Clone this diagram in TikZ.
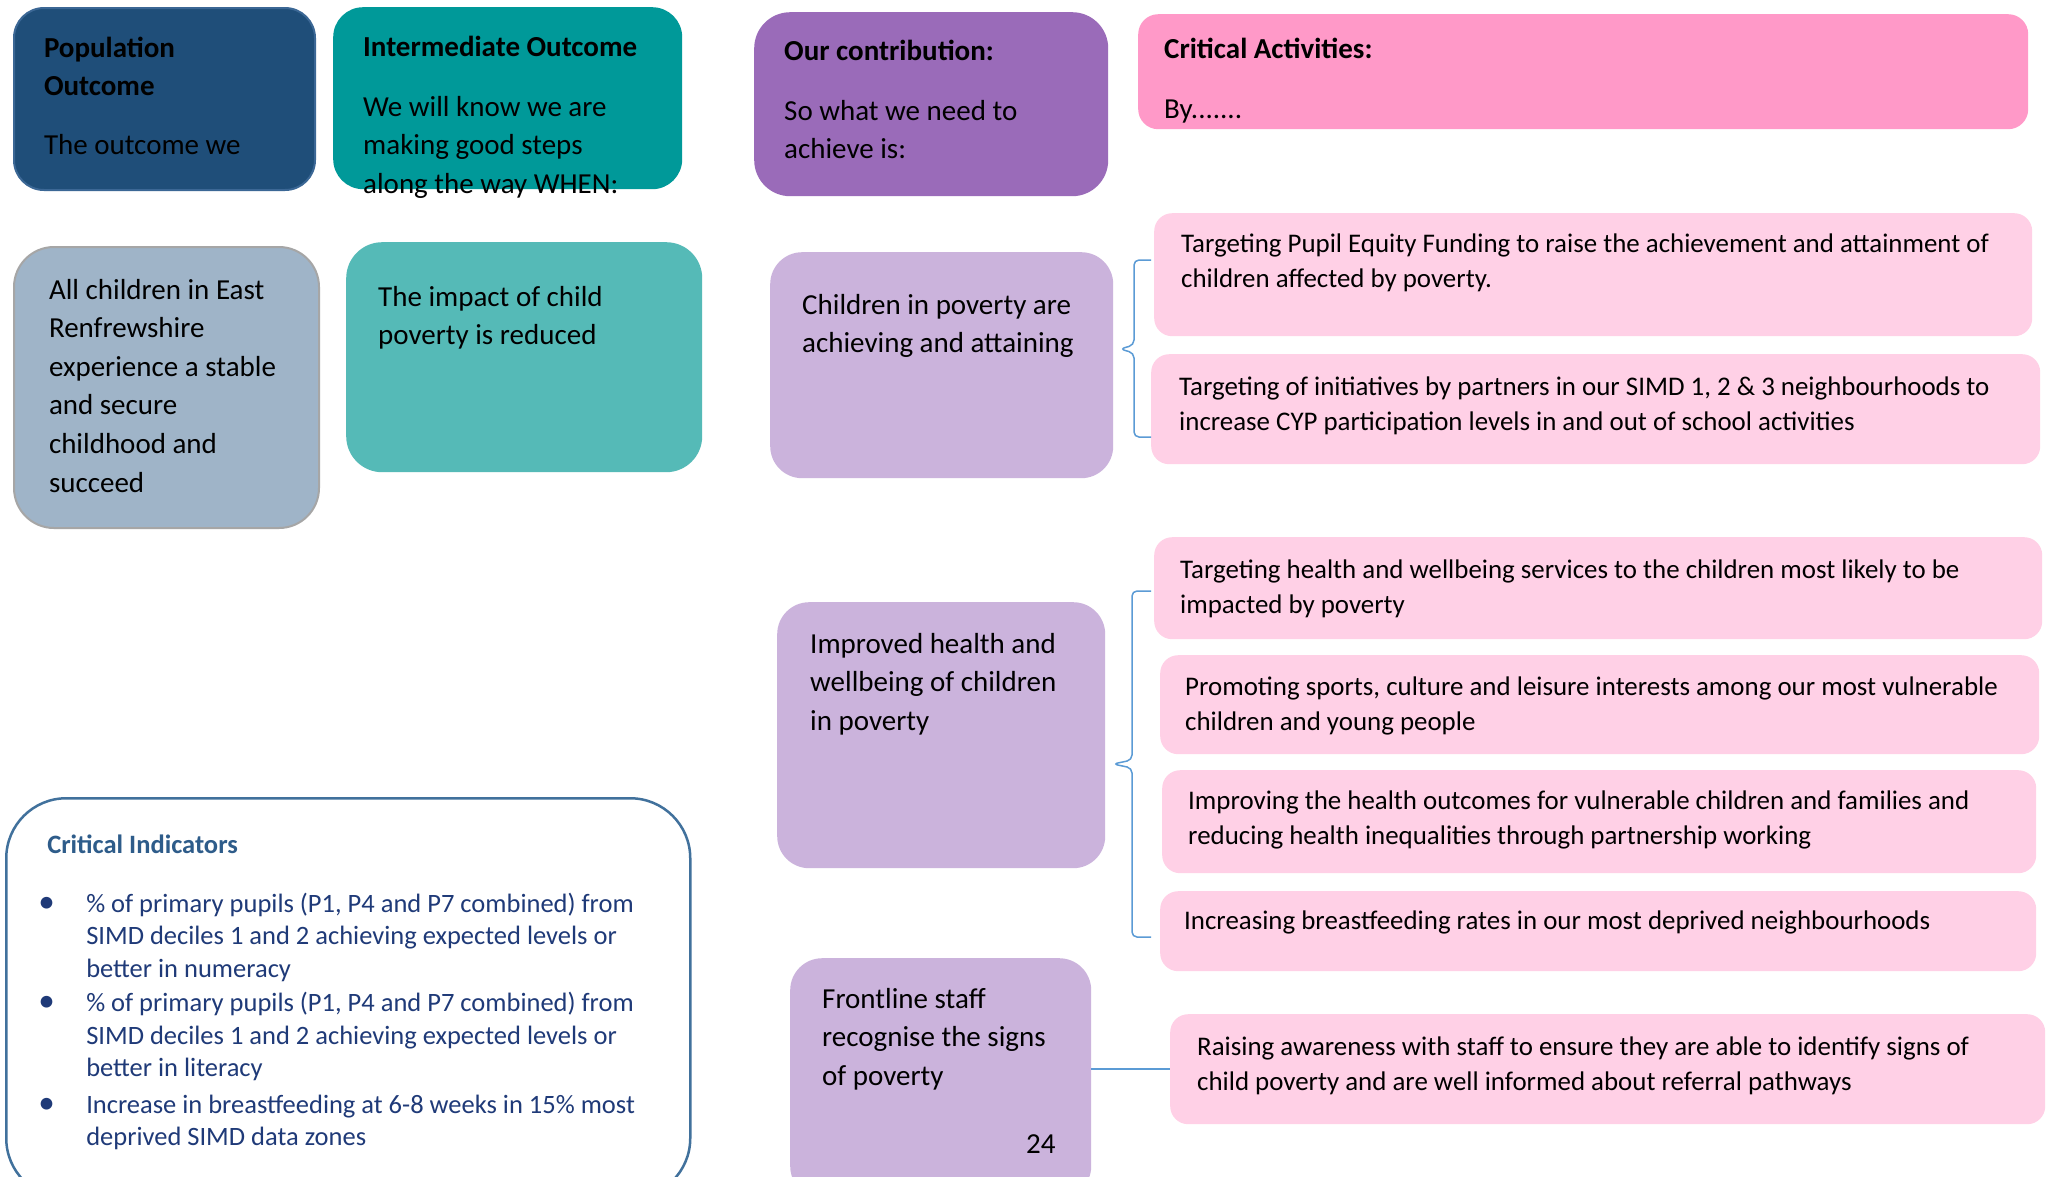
\documentclass[tikz,border=0pt]{standalone}
\usepackage{fontspec}
\setmainfont{Carlito}
\definecolor{popblue}{HTML}{1F4E79}
\definecolor{popedge}{HTML}{3B6795}
\definecolor{intteal}{HTML}{009999}
\definecolor{contrib}{HTML}{9A6BB9}
\definecolor{critpink}{HTML}{FF99C8}
\definecolor{greyblue}{HTML}{9FB4C8}
\definecolor{greyedge}{HTML}{A6A6A6}
\definecolor{lightteal}{HTML}{55BAB7}
\definecolor{lavender}{HTML}{CBB3DC}
\definecolor{palepink}{HTML}{FFD0E6}
\definecolor{indedge}{HTML}{41719C}
\definecolor{indhead}{HTML}{2E5C8A}
\definecolor{indtext}{HTML}{1F3A78}
\definecolor{bracecol}{HTML}{5B9BD5}
% text block: width, height, lines
\newcommand{\celltext}[3]{\parbox[t][#2pt][t]{#1pt}{\begin{tabular}[t]{@{}l@{}}#3\end{tabular}}}
\newcommand{\bul}{\makebox[44pt][l]{\hspace*{-4pt}\scalebox{1.25}{\textbullet}}}
\begin{document}
\begin{tikzpicture}[x=1pt, y=-1pt,
    cell/.style={anchor=north west, rounded corners=#1, inner sep=0pt},
    cell/.default=30,
    bigtxt/.style={font=\fontsize{29}{38.6}\selectfont},
    smalltxt/.style={font=\fontsize{26.9}{35.5}\selectfont},
    goal/.style={cell=32, bigtxt, fill=lavender, inner xsep=32},
    activity/.style={cell=18, smalltxt, fill=palepink},
    brace/.style={draw=bracecol, line width=1.5, rounded corners=5},
    link/.style={draw=bracecol, line width=1.5}]
 \path[use as bounding box, fill=white] (0,0) rectangle (2049,1176);

    % Column headers
 \node[cell, bigtxt, fill=popblue, draw=popedge, line width=2, inner xsep=30, inner ysep=22] (pop) at (13,7)
    {\celltext{241}{138}{\textbf{Population}\\ \textbf{Outcome}\\[20.5pt] The outcome we}};
 \node[cell, bigtxt, fill=intteal, inner xsep=30, inner ysep=22] (inter) at (333,7)
    {\celltext{289}{138}{\textbf{Intermediate Outcome}\\[21.5pt] We will know we are\\ making good steps\\ along the way WHEN:}};
 \node[cell=36, bigtxt, fill=contrib, inner xsep=30, inner ysep=21] (contr) at (754,12)
    {\celltext{294}{142}{\textbf{Our contribution:}\\[21.5pt] So what we need to\\ achieve is:}};
 \node[cell=20, bigtxt, fill=critpink, inner xsep=26, inner ysep=17] (crit) at (1138,14)
    {\celltext{838}{81}{\textbf{Critical Activities:}\\[21.5pt] By.......}};

    % Outcomes
 \node[cell=40, bigtxt, fill=greyblue, draw=greyedge, line width=2, inner xsep=35, inner ysep=25] (allch) at (13,246)
    {\celltext{235}{231}{All children in East\\ Renfrewshire\\ experience a stable\\ and secure\\ childhood and\\ succeed}};
 \node[cell=36, bigtxt, fill=lightteal, inner xsep=32, inner ysep=37] (impact) at (346,242)
    {\celltext{292}{156}{The impact of child\\ poverty is reduced}};

    % Contributions
 \node[goal, inner ysep=35] (child) at (770,252)
    {\celltext{279}{156}{Children in poverty are\\ achieving and attaining}};
 \node[goal, inner xsep=33, inner ysep=24] (health) at (777,602)
    {\celltext{262}{218}{Improved health and\\ wellbeing of children\\ in poverty}};
 \node[goal, inner ysep=23] (front) at (790,958)
    {\celltext{237}{194}{Frontline staff\\ recognise the signs\\ of poverty\\[29.5pt] \hspace*{204pt}24}};

    % Activities
 \node[activity, inner xsep=27, inner ysep=14.15] (act1) at (1154,213)
    {\celltext{824}{94.7}{Targeting Pupil Equity Funding to raise the achievement and attainment of\\ children affected by poverty.}};
 \node[activity, inner xsep=28, inner ysep=16.15] (act2) at (1151,354)
    {\celltext{833}{77.7}{Targeting of initiatives by partners in our SIMD 1, 2 \& 3 neighbourhoods to\\ increase CYP participation levels in and out of school activities}};
 \node[activity, inner xsep=26, inner ysep=16.15] (act3) at (1154,537)
    {\celltext{836}{69.7}{Targeting health and wellbeing services to the children most likely to be\\ impacted by poverty}};
 \node[activity, inner xsep=25, inner ysep=15.15] (act4) at (1160,655)
    {\celltext{829}{68.7}{Promoting sports, culture and leisure interests among our most vulnerable\\ children and young people}};
 \node[activity, inner xsep=26, inner ysep=14.15] (act5) at (1162,770)
    {\celltext{822}{74.7}{Improving the health outcomes for vulnerable children and families and\\ reducing health inequalities through partnership working}};
 \node[activity, inner xsep=24, inner ysep=13.15] (act6) at (1160,891)
    {\celltext{828}{53.7}{Increasing breastfeeding rates in our most deprived neighbourhoods}};
 \node[activity, inner xsep=27, inner ysep=16.15] (act7) at (1170,1014)
    {\celltext{821}{77.7}{Raising awareness with staff to ensure they are able to identify signs of\\ child poverty and are well informed about referral pathways}};

    % Critical indicators
 \node[cell=60, fill=white, draw=indedge, line width=2.5, text=indtext, font=\fontsize{26.5}{32.5}\selectfont,
       inner xsep=36, inner ysep=32.25] (ind) at (5,797)
    {\celltext{612}{335.5}{\hspace*{5pt}\textcolor{indhead}{\textbf{Critical Indicators}}\\[26.5pt]
      \bul\% of primary pupils (P1, P4 and P7 combined) from\\
      \hspace*{44pt}SIMD deciles 1 and 2 achieving expected levels or\\
      \hspace*{44pt}better in numeracy\\[2pt]
      \bul\% of primary pupils (P1, P4 and P7 combined) from\\
      \hspace*{44pt}SIMD deciles 1 and 2 achieving expected levels or\\
      \hspace*{44pt}better in literacy\\[4pt]
      \bul Increase in breastfeeding at 6-8 weeks in 15\% most\\
      \hspace*{44pt}deprived SIMD data zones}};

    % Braces and link
 \coordinate (b1top) at (1151,260);
 \coordinate (b1tip) at (1120,349);
 \coordinate (b1bot) at (1151,437);
 \coordinate (b2top) at (1151,591);
 \coordinate (b2tip) at (1113,764);
 \coordinate (b2bot) at (1151,937);
 \draw[brace] (b1top) -- (1134,260) -- (1134,345) -- (b1tip) -- (1134,353) -- (1134,437) -- (b1bot);
 \draw[brace] (b2top) -- (1132,591) -- (1132,760) -- (b2tip) -- (1132,768) -- (1132,937) -- (b2bot);
 \draw[link] (front.east |- act7.west) -- (act7.west);
\end{tikzpicture}
\end{document}
